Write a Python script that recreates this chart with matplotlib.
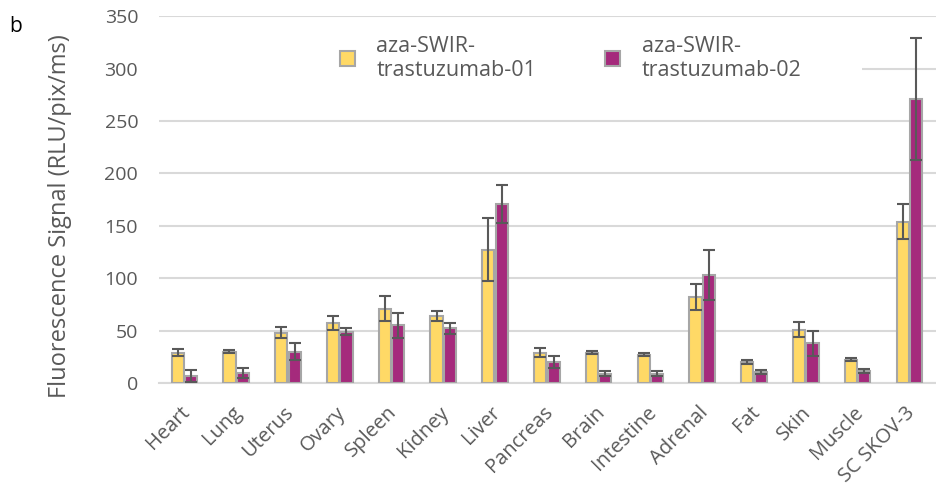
import matplotlib
matplotlib.use("Agg")
import matplotlib.pyplot as plt
import matplotlib.patches as mpatches
import matplotlib.transforms as mtransforms
import numpy as np

# 장기별 형광 신호 데이터
organs = ["Heart", "Lung", "Uterus", "Ovary", "Spleen", "Kidney", "Liver", "Pancreas",
          "Brain", "Intestine", "Adrenal", "Fat", "Skin", "Muscle", "SC SKOV-3"]
swir01 = [29, 30, 48, 57, 71, 64, 127, 29, 29, 27, 82, 20, 51, 22, 154]
swir01_err = [3.5, 1, 5.5, 6.5, 12, 5, 30, 4, 1.5, 1.5, 12, 1.5, 7, 1.5, 17]
swir02 = [6.5, 9.5, 30, 49, 55, 52, 171, 20, 9, 9, 103, 10.5, 38, 11.5, 271]
swir02_err = [5.5, 5, 8, 3.5, 12, 5.5, 18, 5.5, 2.5, 2.5, 24, 1.5, 12, 2, 58]

text_color = "#595959"
plt.rcParams['font.family'] = ['Open Sans', 'DejaVu Sans']

fig = plt.figure(figsize=(9.37, 4.87), dpi=100)
ax = fig.add_axes([0.1697, 0.2136, 0.829, 0.753])

x = np.arange(len(organs))
w = 0.235
err_kw = dict(ecolor="#595959", elinewidth=1.5, capsize=4.5, capthick=1.5)
ax.bar(x - 0.14, swir01, w, yerr=swir01_err, color="#FFD966", edgecolor="#A6A6A6",
       linewidth=1.5, error_kw=err_kw, label="aza-SWIR-\ntrastuzumab-01", zorder=3)
ax.bar(x + 0.12, swir02, w, yerr=swir02_err, color="#A52A7C", edgecolor="#A6A6A6",
       linewidth=1.5, error_kw=err_kw, label="aza-SWIR-\ntrastuzumab-02", zorder=3)

ax.set_xlim(-0.5, len(organs) - 0.5)
ax.set_ylim(0, 350)
ax.set_yticks(range(0, 351, 50))
ax.grid(axis="y", color="#D9D9D9", linewidth=1.5, zorder=0)
for s in ["top", "right", "left"]:
    ax.spines[s].set_visible(False)
ax.spines["bottom"].set_color("#D9D9D9")
ax.spines["bottom"].set_linewidth(1.5)
ax.tick_params(axis="both", length=0, colors=text_color)
ax.tick_params(axis="y", pad=15, labelsize=14)
ax.set_xticks(x)
ax.set_xticklabels(organs, rotation=45, ha="right", rotation_mode="anchor")
ax.tick_params(axis="x", pad=14, labelsize=14.5)
shift = mtransforms.ScaledTranslation(-5 / 100, 0, fig.dpi_scale_trans)
for lbl in ax.get_xticklabels():
    lbl.set_transform(lbl.get_transform() + shift)
ax.set_ylabel("Fluorescence Signal (RLU/pix/ms)", fontsize=17, color=text_color)
ax.yaxis.set_label_coords(-0.112, 0.455)

# 범례 뒤 흰 배경 (그리드 가림)
ax.add_patch(mpatches.Rectangle((0.0, 0.775), 0.905, 0.2,
                                transform=ax.transAxes, facecolor="white",
                                edgecolor="none", zorder=2))
leg = ax.legend(loc="center", bbox_to_anchor=(0.53, 0.885), ncol=2, frameon=False,
                fontsize=15.5, labelcolor=text_color, handlelength=0.7, handleheight=0.7,
                columnspacing=3.2, handletextpad=1.0)

fig.text(0.01, 0.935, "b", fontsize=15, color="black")

fig.savefig("out.png", dpi=100)
